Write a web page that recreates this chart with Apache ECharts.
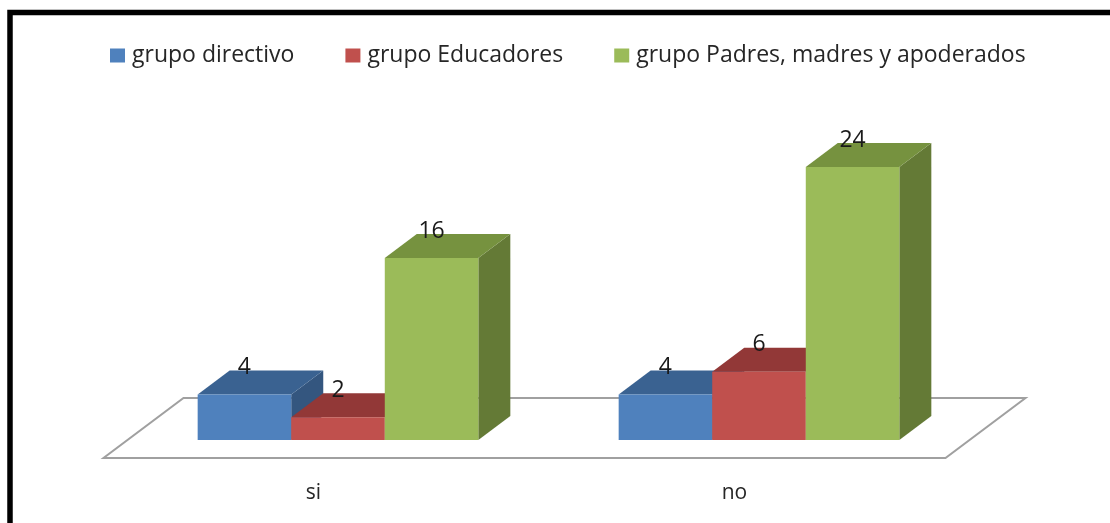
<!DOCTYPE html>
<html>
<head>
<meta charset="utf-8">
<title>grupos</title>
<script src="https://cdn.jsdelivr.net/npm/echarts@6/dist/echarts.min.js"></script>
<style>
  html, body { margin: 0; padding: 0; background: #fff; }
  #chart { width: 1110px; height: 523px; }
</style>
</head>
<body>
<div id="chart"></div>
<script>
var categories = ['si', 'no'];
var directivo = [4, 4];
var educadores = [2, 6];
var padres = [16, 24];
var seriesNames = ['grupo directivo', 'grupo Educadores', 'grupo Padres, madres y apoderados'];

var fontName = '"Open Sans", sans-serif';
var depthX = 32, depthY = 24;

// front, top and side colours of each box
var colors = [
  { front: '#4f81bd', top: '#3a6291', side: '#34567f' },
  { front: '#c0504d', top: '#923837', side: '#7f3231' },
  { front: '#9bbb59', top: '#76923f', side: '#647a36' }
];

function box(index) {
  return function(params, api) {
    var base = api.coord([api.value(0), 0]);
    var top = api.coord([api.value(0), api.value(1)]);
    var w = api.size([1, 0])[0] / 4.5;
    var x0 = base[0] + (index - 1.5) * w;
    var x1 = x0 + w;
    var c = colors[index];
    return {
      type: 'group',
      children: [{
        type: 'polygon',
        shape: { points: [[x1, top[1]], [x1 + depthX, top[1] - depthY], [x1 + depthX, base[1] - depthY], [x1, base[1]]] },
        style: { fill: c.side }
      }, {
        type: 'polygon',
        shape: { points: [[x0, top[1]], [x0 + depthX, top[1] - depthY], [x1 + depthX, top[1] - depthY], [x1, top[1]]] },
        style: { fill: c.top }
      }, {
        type: 'rect',
        shape: { x: x0, y: top[1], width: w, height: base[1] - top[1] },
        style: { fill: c.front }
      }, {
        type: 'text',
        z2: 10,
        style: {
          x: (x0 + x1) / 2,
          y: top[1] - 27,
          text: String(api.value(1)),
          align: 'center',
          verticalAlign: 'middle',
          font: '23px ' + fontName,
          fill: '#1a1a1a'
        }
      }]
    };
  };
}

function floor(params) {
  var r = params.coordSys;
  var yb = r.y + r.height;
  return {
    type: 'polygon',
    shape: { points: [
      [r.x - 24, yb + 18],
      [r.x + r.width - 24, yb + 18],
      [r.x + r.width + 56, yb - 42],
      [r.x + 56, yb - 42]
    ] },
    style: { fill: '#fff', stroke: '#a0a0a0', lineWidth: 2 }
  };
}

function makeSeries(index, values) {
  return {
    name: seriesNames[index],
    type: 'custom',
    clip: false,
    z: 3,
    itemStyle: { color: colors[index].front },
    renderItem: box(index),
    encode: { x: 0, y: 1 },
    data: values.map(function(v, i) { return [i, v]; })
  };
}

var chart = echarts.init(document.getElementById('chart'), null, { renderer: 'canvas' });
chart.setOption({
  backgroundColor: '#fff',
  animation: false,
  legend: {
    data: seriesNames,
    left: 105,
    top: 39,
    itemWidth: 15,
    itemHeight: 14,
    itemGap: 51,
    icon: 'rect',
    textStyle: { fontFamily: fontName, fontSize: 23, color: '#262626', padding: [0, 0, 0, 2] }
  },
  grid: { left: 127.5, right: 140.5, top: 167, bottom: 83 },
  xAxis: {
    type: 'category',
    data: categories,
    axisLine: { show: false },
    axisTick: { show: false },
    axisLabel: { margin: 43, padding: [0, 49, 0, 0], fontFamily: fontName, fontSize: 21, color: '#262626' }
  },
  yAxis: { type: 'value', min: 0, max: 24, show: false },
  graphic: [{
    type: 'polyline',
    shape: { points: [[10, 523], [10, 12.5], [1110, 12.5]] },
    style: { stroke: '#000', lineWidth: 5.5, fill: null }
  }],
  series: [{
    type: 'custom',
    clip: false,
    z: 1,
    renderItem: floor,
    data: [[0, 0]]
  }, makeSeries(0, directivo), makeSeries(1, educadores), makeSeries(2, padres)]
});
</script>
</body>
</html>
